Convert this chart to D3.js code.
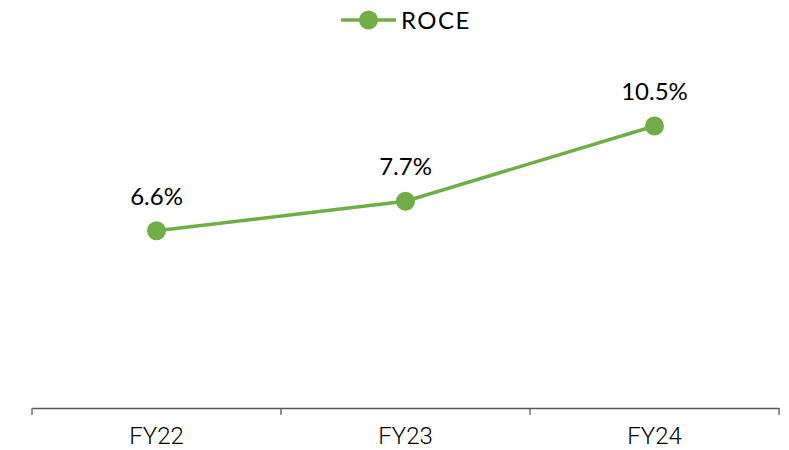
<!DOCTYPE html>
<html>
<head>
<meta charset="utf-8">
<script src="https://cdn.jsdelivr.net/npm/d3@7"></script>
<style>
  html, body { margin: 0; padding: 0; background: #fff; }
  svg { display: block; }
</style>
</head>
<body>
<svg id="chart" width="789" height="450"></svg>
<script>
// ROCE by fiscal year
const categories = ["FY22", "FY23", "FY24"];
const roceValues = [6.6, 7.7, 10.5];
const seriesName = "ROCE";

const width = 789, height = 450;
const lineColor = "#70AD47";
const axisColor = "#595959";

const svg = d3.select("#chart");

const x = d3.scaleBand().domain(categories).range([32, 779]).padding(0);
const y = d3.scaleLinear().domain([0, 14]).range([408, 32]);
const cx = d => x(d) + x.bandwidth() / 2;

// Category axis: baseline with tick marks on band boundaries
const axisG = svg.append("g").attr("transform", `translate(0,${y(0)})`);
axisG.call(d3.axisBottom(x).tickSize(0).tickPadding(19))
  .call(g => g.select(".domain").attr("stroke", axisColor).attr("stroke-width", 1.3))
  .call(g => g.selectAll("text")
    .attr("font-family", "Roboto, 'Liberation Sans', sans-serif")
    .attr("font-weight", 300)
    .attr("font-size", 24)
    .attr("fill", "#000"));

const boundaries = categories.map(c => x(c)).concat([x.range()[1]]);
axisG.selectAll("line.bound").data(boundaries).enter().append("line")
  .attr("class", "bound")
  .attr("x1", d => d).attr("x2", d => d)
  .attr("y1", 0).attr("y2", 7)
  .attr("stroke", axisColor).attr("stroke-width", 1.3);

// Series line
const line = d3.line()
  .x((d, i) => cx(categories[i]))
  .y(d => y(d));

svg.append("path")
  .datum(roceValues)
  .attr("fill", "none")
  .attr("stroke", lineColor)
  .attr("stroke-width", 3.5)
  .attr("stroke-linejoin", "round")
  .attr("d", line);

svg.selectAll("circle.pt").data(roceValues).enter().append("circle")
  .attr("class", "pt")
  .attr("cx", (d, i) => cx(categories[i]))
  .attr("cy", d => y(d))
  .attr("r", 9.5)
  .attr("fill", lineColor);

// Value labels
svg.selectAll("text.val").data(roceValues).enter().append("text")
  .attr("class", "val")
  .attr("x", (d, i) => cx(categories[i]))
  .attr("y", d => y(d) - 26)
  .attr("text-anchor", "middle")
  .attr("font-family", "Lato, 'Noto Sans', sans-serif")
  .attr("font-size", 24)
  .attr("fill", "#000")
  .text(d => d.toFixed(1) + "%");

// Legend
const legend = svg.append("g").attr("transform", "translate(341,20)");
legend.append("line")
  .attr("x1", 0).attr("x2", 55).attr("y1", 0).attr("y2", 0)
  .attr("stroke", lineColor).attr("stroke-width", 3.5);
legend.append("circle")
  .attr("cx", 27.5).attr("cy", 0).attr("r", 9.5).attr("fill", lineColor);
legend.append("text")
  .attr("x", 60).attr("y", 8.5)
  .attr("font-family", "Lato, 'Noto Sans', sans-serif")
  .attr("font-size", 24)
  .attr("letter-spacing", 1.5)
  .attr("fill", "#000")
  .text(seriesName);
</script>
</body>
</html>
